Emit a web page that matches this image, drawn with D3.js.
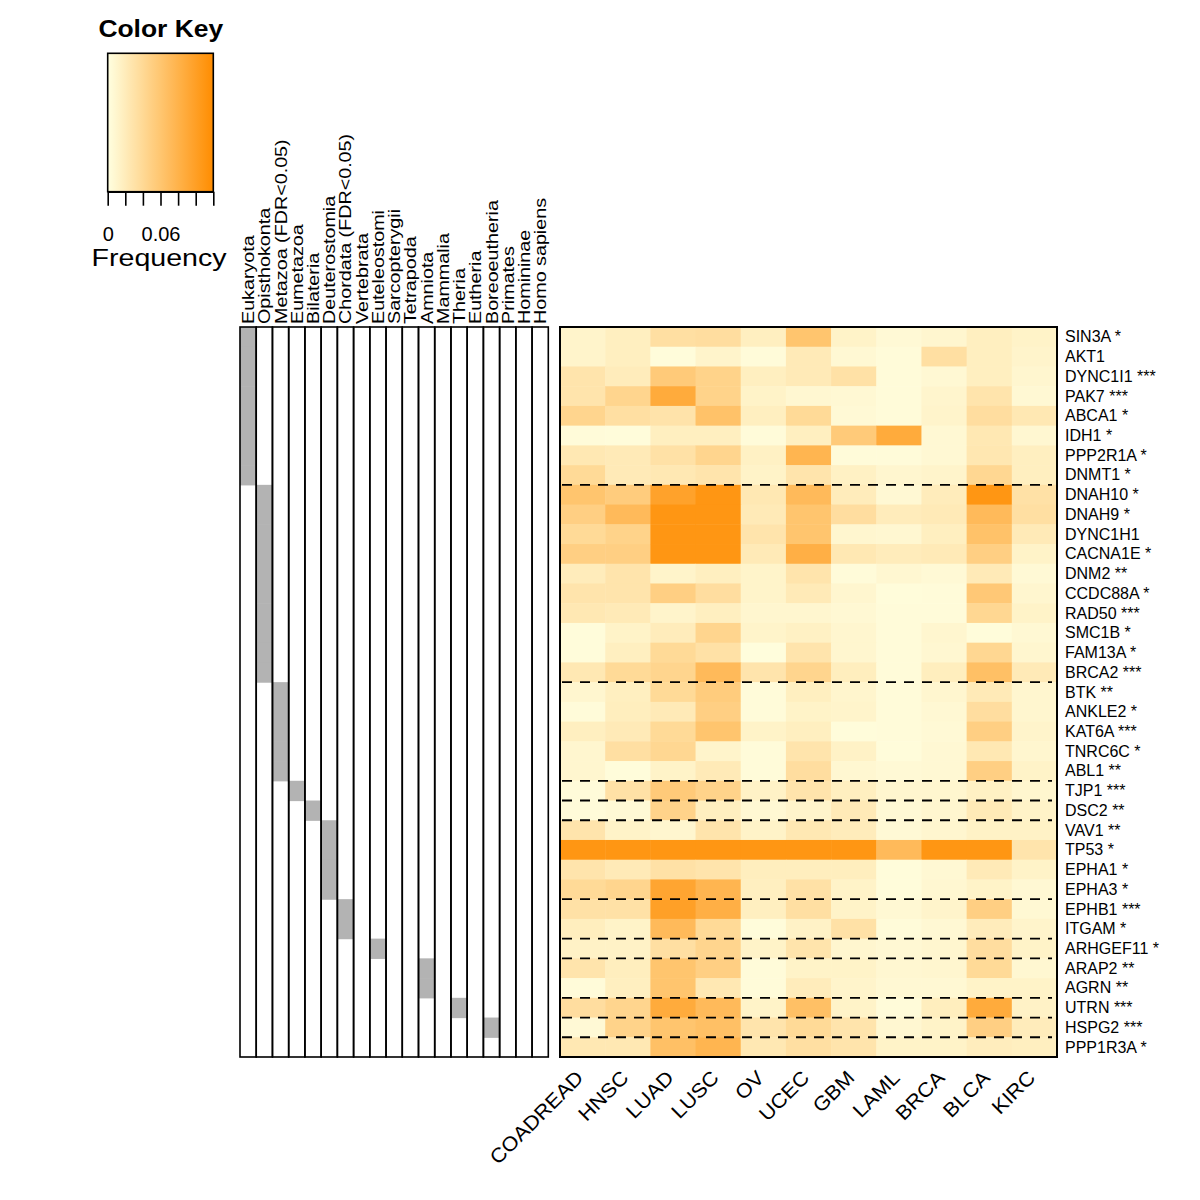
<!DOCTYPE html>
<html>
<head>
<meta charset="utf-8">
<script src="https://cdn.jsdelivr.net/npm/d3@7.9.0/dist/d3.min.js"></script>
<style>
  body { margin: 0; background: #fff; }
  svg { display: block; font-family: "Liberation Sans", Arial, Helvetica, sans-serif; }
</style>
</head>
<body>
<div id="chart"></div>
<script>
// cancer types (heatmap columns)
const cancers = ['COADREAD', 'HNSC', 'LUAD', 'LUSC', 'OV', 'UCEC', 'GBM', 'LAML', 'BRCA', 'BLCA', 'KIRC'];

// gene labels (heatmap rows, top to bottom)
const genes = [
  'SIN3A *', 'AKT1', 'DYNC1I1 ***', 'PAK7 ***', 'ABCA1 *', 'IDH1 *', 'PPP2R1A *', 'DNMT1 *',
  'DNAH10 *', 'DNAH9 *', 'DYNC1H1', 'CACNA1E *', 'DNM2 **', 'CCDC88A *', 'RAD50 ***', 'SMC1B *',
  'FAM13A *', 'BRCA2 ***', 'BTK **', 'ANKLE2 *', 'KAT6A ***', 'TNRC6C *', 'ABL1 **', 'TJP1 ***',
  'DSC2 **', 'VAV1 **', 'TP53 *', 'EPHA1 *', 'EPHA3 *', 'EPHB1 ***', 'ITGAM *', 'ARHGEF11 *',
  'ARAP2 **', 'AGRN **', 'UTRN ***', 'HSPG2 ***', 'PPP1R3A *'
];

// phylostrata (left panel columns)
const clades = [
  'Eukaryota', 'Opisthokonta', 'Metazoa (FDR<0.05)', 'Eumetazoa', 'Bilateria', 'Deuterostomia',
  'Chordata (FDR<0.05)', 'Vertebrata', 'Euteleostomi', 'Sarcopterygii', 'Tetrapoda', 'Amniota',
  'Mammalia', 'Theria', 'Eutheria', 'Boreoeutheria', 'Primates', 'Homininae', 'Homo sapiens'
];

// age of each gene (same order as genes)
const geneClade = [
  'Eukaryota', 'Eukaryota', 'Eukaryota', 'Eukaryota', 'Eukaryota', 'Eukaryota', 'Eukaryota', 'Eukaryota',
  'Opisthokonta', 'Opisthokonta', 'Opisthokonta', 'Opisthokonta', 'Opisthokonta', 'Opisthokonta',
  'Opisthokonta', 'Opisthokonta', 'Opisthokonta', 'Opisthokonta',
  'Metazoa (FDR<0.05)', 'Metazoa (FDR<0.05)', 'Metazoa (FDR<0.05)', 'Metazoa (FDR<0.05)', 'Metazoa (FDR<0.05)',
  'Eumetazoa', 'Bilateria',
  'Deuterostomia', 'Deuterostomia', 'Deuterostomia', 'Deuterostomia',
  'Chordata (FDR<0.05)', 'Chordata (FDR<0.05)',
  'Euteleostomi', 'Amniota', 'Amniota', 'Theria', 'Boreoeutheria', null
];

// mutation frequency, one row per gene, one value per cancer
const freq = [
  [0.011, 0.017, 0.033, 0.035, 0.017, 0.061, 0.013, 0.006, 0.009, 0.017, 0.013],
  [0.011, 0.017, 0.003, 0.011, 0.004, 0.022, 0.007, 0.004, 0.033, 0.017, 0.011],
  [0.028, 0.020, 0.055, 0.046, 0.017, 0.022, 0.031, 0.004, 0.007, 0.017, 0.009],
  [0.028, 0.044, 0.088, 0.046, 0.013, 0.008, 0.007, 0.004, 0.010, 0.028, 0.007],
  [0.044, 0.033, 0.029, 0.064, 0.017, 0.039, 0.006, 0.004, 0.011, 0.035, 0.024],
  [0.004, 0.003, 0.017, 0.017, 0.004, 0.017, 0.055, 0.088, 0.007, 0.024, 0.008],
  [0.024, 0.022, 0.031, 0.044, 0.015, 0.077, 0.004, 0.004, 0.007, 0.025, 0.017],
  [0.039, 0.022, 0.024, 0.028, 0.013, 0.028, 0.015, 0.009, 0.011, 0.042, 0.017],
  [0.061, 0.053, 0.097, 0.110, 0.024, 0.072, 0.020, 0.007, 0.020, 0.110, 0.031],
  [0.050, 0.072, 0.110, 0.110, 0.022, 0.061, 0.035, 0.020, 0.022, 0.072, 0.033],
  [0.039, 0.046, 0.110, 0.110, 0.028, 0.061, 0.009, 0.008, 0.017, 0.064, 0.022],
  [0.050, 0.050, 0.110, 0.110, 0.022, 0.083, 0.024, 0.020, 0.022, 0.050, 0.013],
  [0.020, 0.028, 0.012, 0.017, 0.012, 0.028, 0.004, 0.008, 0.006, 0.022, 0.006],
  [0.028, 0.028, 0.050, 0.035, 0.012, 0.022, 0.009, 0.003, 0.004, 0.057, 0.009],
  [0.024, 0.022, 0.011, 0.017, 0.009, 0.009, 0.007, 0.004, 0.004, 0.042, 0.013],
  [0.003, 0.013, 0.020, 0.044, 0.012, 0.015, 0.009, 0.004, 0.009, 0.003, 0.007],
  [0.003, 0.017, 0.039, 0.031, 0.002, 0.028, 0.009, 0.004, 0.008, 0.042, 0.009],
  [0.024, 0.039, 0.044, 0.072, 0.028, 0.044, 0.018, 0.004, 0.018, 0.066, 0.022],
  [0.009, 0.017, 0.039, 0.053, 0.004, 0.017, 0.010, 0.004, 0.009, 0.022, 0.009],
  [0.004, 0.018, 0.022, 0.050, 0.004, 0.013, 0.011, 0.004, 0.007, 0.035, 0.009],
  [0.017, 0.022, 0.039, 0.061, 0.013, 0.017, 0.003, 0.004, 0.006, 0.050, 0.011],
  [0.009, 0.033, 0.042, 0.011, 0.004, 0.028, 0.014, 0.003, 0.007, 0.024, 0.009],
  [0.009, 0.003, 0.013, 0.022, 0.004, 0.035, 0.008, 0.006, 0.007, 0.050, 0.013],
  [0.004, 0.031, 0.055, 0.046, 0.014, 0.028, 0.017, 0.009, 0.009, 0.015, 0.009],
  [0.004, 0.006, 0.046, 0.017, 0.007, 0.011, 0.022, 0.006, 0.009, 0.022, 0.013],
  [0.028, 0.013, 0.009, 0.028, 0.013, 0.024, 0.020, 0.006, 0.009, 0.014, 0.014],
  [0.110, 0.110, 0.110, 0.110, 0.110, 0.110, 0.110, 0.072, 0.110, 0.110, 0.028],
  [0.028, 0.022, 0.031, 0.028, 0.018, 0.018, 0.018, 0.003, 0.007, 0.022, 0.013],
  [0.039, 0.044, 0.094, 0.077, 0.017, 0.031, 0.013, 0.003, 0.008, 0.013, 0.007],
  [0.031, 0.031, 0.099, 0.083, 0.017, 0.033, 0.013, 0.007, 0.011, 0.050, 0.007],
  [0.018, 0.013, 0.072, 0.039, 0.003, 0.014, 0.031, 0.004, 0.007, 0.020, 0.011],
  [0.014, 0.014, 0.033, 0.044, 0.013, 0.028, 0.009, 0.007, 0.009, 0.035, 0.013],
  [0.028, 0.018, 0.061, 0.050, 0.004, 0.013, 0.013, 0.008, 0.009, 0.039, 0.008],
  [0.004, 0.017, 0.061, 0.024, 0.004, 0.020, 0.011, 0.007, 0.007, 0.013, 0.013],
  [0.035, 0.044, 0.088, 0.072, 0.013, 0.066, 0.013, 0.004, 0.018, 0.088, 0.014],
  [0.006, 0.046, 0.061, 0.066, 0.028, 0.039, 0.028, 0.008, 0.013, 0.050, 0.020],
  [0.024, 0.024, 0.066, 0.077, 0.024, 0.033, 0.028, 0.013, 0.013, 0.019, 0.017]
];

// colour key
const keyDomain = [0, 0.12];
const keyTicks = [0, 0.02, 0.04, 0.06, 0.08, 0.10, 0.12];
const keyLabels = ['0', '', '', '0.06', '', '', ''];

const width = 1200, height = 1200;
const plotTop = 327, plotBottom = 1057;

const svg = d3.select('#chart').append('svg')
  .attr('width', width)
  .attr('height', height);

const color = d3.scaleLinear()
  .domain(keyDomain)
  .range(['#FFFFE0', '#FF8C00'])
  .interpolate(d3.interpolateRgb)
  .clamp(true);

const y = d3.scaleBand().domain(genes).range([plotTop, plotBottom]);
const xAge = d3.scaleBand().domain(clades).range([240, 548.3]);
const xHeat = d3.scaleBand().domain(cancers).range([560, 1057]);

// ---- left panel: gene age ----
const agePanel = svg.append('g');
agePanel.selectAll('rect.age')
  .data(genes.map((g, i) => ({ gene: g, clade: geneClade[i] })).filter(d => d.clade))
  .join('rect')
  .attr('class', 'age')
  .attr('x', d => xAge(d.clade))
  .attr('y', d => y(d.gene))
  .attr('width', xAge.bandwidth())
  .attr('height', y.bandwidth() + 0.6)
  .attr('fill', '#B3B3B3');

agePanel.selectAll('rect.col')
  .data(clades)
  .join('rect')
  .attr('class', 'col')
  .attr('x', d => xAge(d))
  .attr('y', plotTop)
  .attr('width', xAge.bandwidth())
  .attr('height', plotBottom - plotTop)
  .attr('fill', 'none')
  .attr('stroke', '#000')
  .attr('stroke-width', 1.6);

agePanel.selectAll('text')
  .data(clades)
  .join('text')
  .attr('transform', d => `translate(${xAge(d) + xAge.bandwidth() / 2 + 6},324) rotate(-90) scale(1.16,1)`)
  .attr('font-size', 17)
  .attr('fill', '#000')
  .text(d => d);

// ---- heatmap ----
const cells = [];
genes.forEach((g, i) => cancers.forEach((c, j) => cells.push({ gene: g, cancer: c, value: freq[i][j] })));

svg.append('g').selectAll('rect')
  .data(cells)
  .join('rect')
  .attr('x', d => xHeat(d.cancer))
  .attr('y', d => y(d.gene))
  .attr('width', xHeat.bandwidth() + 0.5)
  .attr('height', y.bandwidth() + 0.5)
  .attr('fill', d => color(d.value));

// dashed separators where the gene age changes
const breaks = genes.slice(1).filter((g, i) => geneClade[i + 1] !== geneClade[i]);
svg.append('g').selectAll('line')
  .data(breaks)
  .join('line')
  .attr('x1', 562)
  .attr('x2', 1052)
  .attr('y1', d => y(d))
  .attr('y2', d => y(d))
  .attr('stroke', '#000')
  .attr('stroke-width', 1.8)
  .attr('stroke-dasharray', '10,8');

svg.append('rect')
  .attr('x', 560).attr('y', plotTop)
  .attr('width', 1057 - 560).attr('height', plotBottom - plotTop)
  .attr('fill', 'none')
  .attr('stroke', '#000')
  .attr('stroke-width', 2);

// row labels
svg.append('g').selectAll('text')
  .data(genes)
  .join('text')
  .attr('x', 1065)
  .attr('y', d => y(d) + y.bandwidth() / 2 + 5.5)
  .attr('font-size', 16)
  .text(d => d);

// column labels
svg.append('g').selectAll('text')
  .data(cancers)
  .join('text')
  .attr('transform', d => `translate(${xHeat(d) + xHeat.bandwidth() / 2 + 2},1079) rotate(-45) scale(1.08,1)`)
  .attr('text-anchor', 'end')
  .attr('font-size', 20)
  .text(d => d);

// ---- colour key ----
const keyX = d3.scaleLinear().domain(keyDomain).range([107.7, 213.3]);

const grad = svg.append('defs').append('linearGradient').attr('id', 'keygrad');
grad.selectAll('stop')
  .data(d3.range(0, 1.0001, 0.1))
  .join('stop')
  .attr('offset', d => d)
  .attr('stop-color', d => color(keyDomain[0] + d * (keyDomain[1] - keyDomain[0])));

svg.append('rect')
  .attr('x', keyX(0)).attr('y', 53.3)
  .attr('width', keyX(0.12) - keyX(0)).attr('height', 191.7 - 53.3)
  .attr('fill', 'url(#keygrad)')
  .attr('stroke', '#000')
  .attr('stroke-width', 1.6);

const keyAxis = svg.append('g')
  .attr('transform', 'translate(0,191.7)')
  .call(d3.axisBottom(keyX).tickValues(keyTicks).tickSize(14).tickSizeOuter(0)
    .tickFormat((d, i) => keyLabels[i]));
keyAxis.select('.domain').attr('stroke-width', 1.6);
keyAxis.selectAll('.tick line').attr('stroke-width', 1.6);
keyAxis.selectAll('.tick text')
  .attr('font-family', '"Liberation Sans", Arial, sans-serif')
  .attr('font-size', 20)
  .attr('fill', '#000')
  .attr('y', 49)
  .attr('dy', 0);

svg.append('text')
  .attr('transform', 'translate(160.8,36.7) scale(1.15,1)')
  .attr('text-anchor', 'middle')
  .attr('font-size', 23)
  .attr('font-weight', 'bold')
  .text('Color Key');

svg.append('text')
  .attr('transform', 'translate(159,266) scale(1.19,1)')
  .attr('text-anchor', 'middle')
  .attr('font-size', 24)
  .text('Frequency');
</script>
</body>
</html>
